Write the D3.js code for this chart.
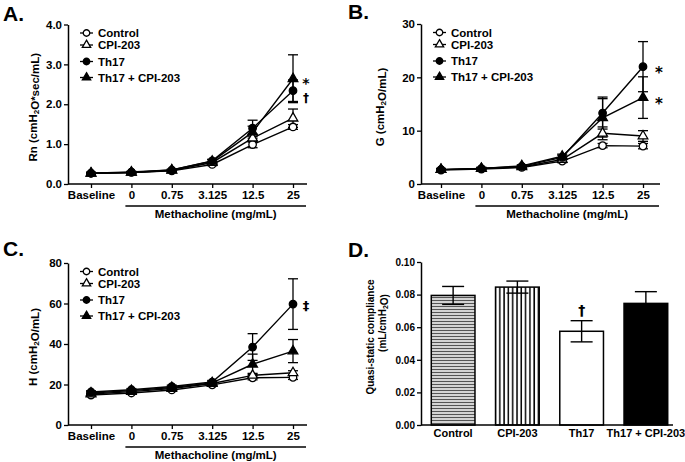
<!DOCTYPE html>
<html lang="en">
<head>
<meta charset="UTF-8">
<title>Lung mechanics</title>
<style>
  body { margin: 0; background: #fff; }
  text { font-family: 'Liberation Sans', Arial, sans-serif; font-weight: bold; fill: #000; }
  text.sym { font-family: 'DejaVu Sans', 'Liberation Sans', sans-serif; }
</style>
</head>
<body>
<svg id="fig" width="685" height="462"></svg>
<script src="https://d3js.org/d3.v7.min.js"></script>
<script>
// categories
var doses = ["Baseline", "0", "0.75", "3.125", "12.5", "25"];
var groups = ["Control", "CPI-203", "Th17", "Th17 + CPI-203"];

// A. Rn
var rnControl = [0.27, 0.29, 0.33, 0.49, 0.99, 1.43];
var rnCPI = [0.27, 0.29, 0.34, 0.54, 1.15, 1.65];
var rnTh17 = [0.27, 0.30, 0.35, 0.58, 1.40, 2.34];
var rnTh17CPI = [0.27, 0.29, 0.35, 0.57, 1.30, 2.64];
var rnControlErr = [0.02, 0.02, 0.02, 0.03, 0.08, 0.06];
var rnCPIErr = [0.02, 0.02, 0.02, 0.03, 0.10, 0.23];
var rnTh17Err = [0.02, 0.02, 0.02, 0.04, 0.20, 0.27];
var rnTh17CPIErr = [0.02, 0.02, 0.02, 0.04, 0.15, 0.60];

// B. G
var gControl = [2.6, 2.8, 3.1, 4.3, 7.2, 7.1];
var gCPI = [2.7, 2.9, 3.2, 4.6, 9.5, 9.0];
var gTh17 = [2.7, 2.9, 3.3, 5.0, 13.3, 22.0];
var gTh17CPI = [2.7, 2.9, 3.4, 5.2, 12.4, 16.2];
var gControlErr = [0.2, 0.2, 0.2, 0.3, 0.4, 0.5];
var gCPIErr = [0.2, 0.2, 0.2, 0.3, 1.2, 1.0];
var gTh17Err = [0.2, 0.2, 0.2, 0.4, 3.0, 4.7];
var gTh17CPIErr = [0.2, 0.2, 0.2, 0.4, 3.6, 3.9];

// C. H
var hControl = [14.8, 15.8, 17.3, 19.8, 23.3, 23.5];
var hCPI = [15.3, 16.5, 18.0, 20.5, 24.5, 25.8];
var hTh17 = [16.3, 17.4, 19.0, 21.2, 38.5, 59.7];
var hTh17CPI = [15.8, 17.0, 18.5, 20.8, 30.0, 36.5];
var hControlErr = [0.5, 0.5, 0.6, 0.7, 1.0, 1.0];
var hCPIErr = [0.5, 0.5, 0.6, 0.7, 1.0, 1.0];
var hTh17Err = [0.6, 0.6, 0.7, 0.8, 6.6, 12.5];
var hTh17CPIErr = [0.6, 0.6, 0.7, 0.8, 5.0, 5.7];

// D. quasi-static compliance
var qsMean = [0.0795, 0.0846, 0.0575, 0.0746];
var qsErr = [0.0055, 0.0037, 0.0065, 0.0072];

var svg = d3.select("#fig");

// pattern fills for panel D
var defs = svg.append("defs");
var ph = defs.append("pattern").attr("id", "hstripe").attr("patternUnits", "userSpaceOnUse")
    .attr("width", 6).attr("height", 3);
ph.append("rect").attr("width", 6).attr("height", 3).attr("fill", "#d4d4d4");
ph.append("line").attr("x1", 0).attr("x2", 6).attr("y1", 0.5).attr("y2", 0.5)
    .attr("stroke", "#555").attr("stroke-width", 1);
var pv = defs.append("pattern").attr("id", "vstripe").attr("patternUnits", "userSpaceOnUse")
    .attr("width", 4.3).attr("height", 6);
pv.append("rect").attr("width", 4.3).attr("height", 6).attr("fill", "#fff");
pv.append("line").attr("x1", 1).attr("x2", 1).attr("y1", 0).attr("y2", 6)
    .attr("stroke", "#000").attr("stroke-width", 1.5);

function yLabel(g, x, y, parts, size) {
    var t = g.append("text")
        .attr("transform", "translate(" + x + "," + y + ") rotate(-90)")
        .attr("text-anchor", "middle")
        .style("font-size", size + "px");
    parts.forEach(function (p) {
        if (p.sub) {
            t.append("tspan").attr("dy", "0.3em").style("font-size", (size * 0.7) + "px").text(p.t);
            t.append("tspan").attr("dy", "-0.3em").text("");
        } else {
            t.append("tspan").text(p.t);
        }
    });
    return t;
}

var symCircle = d3.symbol().type(d3.symbolCircle);
var symTri = d3.symbol().type(d3.symbolTriangle);

function drawMarker(g, i, cx, cy, scale) {
    var open = (i < 2);
    var path = (i % 2 === 0) ? symCircle.size(44 * scale)() : symTri.size(40 * scale)();
    g.append("path")
        .attr("d", path)
        .attr("transform", "translate(" + cx + "," + cy + ")")
        .attr("fill", open ? "#fff" : "#000")
        .attr("stroke", "#000")
        .attr("stroke-width", 1.3);
}

function linePanel(o) {
    var g = svg.append("g");

    g.append("text").attr("x", o.lx).attr("y", o.ly).style("font-size", "21px").text(o.letter);

    var x = d3.scalePoint().domain(doses).range([o.x0, o.x0 + 202]);
    var y = d3.scaleLinear().domain([0, o.yMax]).range([o.bottom, o.top]);

    // y axis
    var ya = g.append("g").attr("transform", "translate(" + o.axisX + ",0)")
        .call(d3.axisLeft(y).tickValues(o.yTicks).tickSize(4).tickSizeOuter(0).tickPadding(2));
    ya.selectAll("text").style("font-size", "11.5px").style("font-family", null);
    ya.select(".domain").attr("stroke-width", 1.5);
    ya.selectAll(".tick line").attr("stroke-width", 1.3);

    // x axis
    var xa = g.append("g").attr("transform", "translate(0," + o.bottom + ")")
        .call(d3.axisBottom(x).tickSize(4).tickPadding(3));
    xa.select(".domain").remove();
    xa.selectAll("text").style("font-size", "11.5px").style("font-family", null);
    xa.selectAll(".tick line").attr("stroke-width", 1.3);
    g.append("line").attr("x1", o.axisX).attr("x2", o.axisX + 239)
        .attr("y1", o.bottom).attr("y2", o.bottom).attr("stroke", "#000").attr("stroke-width", 1.5);

    // methacholine bracket
    g.append("line").attr("x1", x("0") - 6).attr("x2", o.axisX + 238)
        .attr("y1", o.bottom + 22).attr("y2", o.bottom + 22).attr("stroke", "#000").attr("stroke-width", 1.3);
    g.append("text").attr("x", (x("0") - 6 + o.axisX + 238) / 2).attr("y", o.bottom + 34)
        .attr("text-anchor", "middle").style("font-size", "11.5px").text("Methacholine (mg/mL)");

    yLabel(g, o.ylx, (o.top + o.bottom) / 2 + 3, o.ylabel, 11.5);

    var line = d3.line().x(function (d, i) { return x(doses[i]); }).y(function (d) { return y(d); });

    o.series.forEach(function (s) {
        g.append("path").datum(s).attr("d", line).attr("fill", "none")
            .attr("stroke", "#000").attr("stroke-width", 1.4);
    });
    o.series.forEach(function (s, k) {
        s.forEach(function (v, i) {
            var cx = x(doses[i]), e = o.errs[k][i];
            g.append("line").attr("x1", cx).attr("x2", cx).attr("y1", y(v - e)).attr("y2", y(v + e))
                .attr("stroke", "#000").attr("stroke-width", 1.3);
            [v - e, v + e].forEach(function (w) {
                g.append("line").attr("x1", cx - 5).attr("x2", cx + 5).attr("y1", y(w)).attr("y2", y(w))
                    .attr("stroke", "#000").attr("stroke-width", 1.3);
            });
        });
    });
    o.series.forEach(function (s, k) {
        s.forEach(function (v, i) { drawMarker(g, k, x(doses[i]), y(v), 1); });
    });

    // legend
    var rows = [8.5, 20.5, 37, 53];
    groups.forEach(function (name, k) {
        var ly = o.top + rows[k];
        g.append("line").attr("x1", o.axisX + 12).attr("x2", o.axisX + 25).attr("y1", ly).attr("y2", ly)
            .attr("stroke", "#000").attr("stroke-width", 1.3);
        drawMarker(g, k, o.axisX + 18.5, ly, 0.75);
        g.append("text").attr("x", o.axisX + 30).attr("y", ly + 4).style("font-size", "11.5px").text(name);
    });

    o.notes.forEach(function (n) {
        g.append("text").attr("class", "sym").attr("x", o.axisX + 238).attr("y", y(n.v) + n.dy)
            .attr("text-anchor", "middle").style("font-size", n.size + "px").text(n.t);
    });
}

linePanel({
    letter: "A.", lx: 3, ly: 21, axisX: 68, x0: 91, top: 24.5, bottom: 184, yMax: 4, yTicks: [0, 1, 2, 3, 4],
    ylx: 37, ylabel: [{ t: "Rn (cmH" }, { t: "2", sub: true }, { t: "O*sec/mL)" }],
    series: [rnControl, rnCPI, rnTh17, rnTh17CPI],
    errs: [rnControlErr, rnCPIErr, rnTh17Err, rnTh17CPIErr],
    notes: [{ t: "*", v: 2.64, dy: 9.5, size: 14 }, { t: "†", v: 2.34, dy: 11, size: 12 }]
});

linePanel({
    letter: "B.", lx: 348, ly: 19, axisX: 421, x0: 441, top: 24, bottom: 184, yMax: 30, yTicks: [0, 10, 20, 30],
    ylx: 384, ylabel: [{ t: "G (cmH" }, { t: "2", sub: true }, { t: "O/mL)" }],
    series: [gControl, gCPI, gTh17, gTh17CPI],
    errs: [gControlErr, gCPIErr, gTh17Err, gTh17CPIErr],
    notes: [{ t: "*", v: 22.0, dy: 11, size: 15 }, { t: "*", v: 16.2, dy: 11, size: 15 }]
});

linePanel({
    letter: "C.", lx: 3, ly: 256, axisX: 68, x0: 91, top: 263, bottom: 425, yMax: 80, yTicks: [0, 20, 40, 60, 80],
    ylx: 37, ylabel: [{ t: "H (cmH" }, { t: "2", sub: true }, { t: "O/mL)" }],
    series: [hControl, hCPI, hTh17, hTh17CPI],
    errs: [hControlErr, hCPIErr, hTh17Err, hTh17CPIErr],
    notes: [{ t: "‡", v: 59.7, dy: 6, size: 13 }]
});

// D. bar chart
(function () {
    var g = svg.append("g");
    var axisX = 421, top = 262, bottom = 425;
    g.append("text").attr("x", 348).attr("y", 257).style("font-size", "21px").text("D.");

    var x = d3.scaleBand().domain(groups).range([axisX, 678]).paddingInner(0.32).paddingOuter(0.16);
    var y = d3.scaleLinear().domain([0, 0.10]).range([bottom, top]);

    var ya = g.append("g").attr("transform", "translate(" + axisX + ",0)")
        .call(d3.axisLeft(y).tickValues([0, 0.02, 0.04, 0.06, 0.08, 0.10]).tickFormat(d3.format(".2f"))
            .tickSize(4).tickSizeOuter(0).tickPadding(2));
    ya.selectAll("text").style("font-size", "10px").style("font-family", null);
    ya.select(".domain").attr("stroke-width", 1.5);
    ya.selectAll(".tick line").attr("stroke-width", 1.3);

    var fills = ["url(#hstripe)", "url(#vstripe)", "#fff", "#000"];

    qsMean.forEach(function (v, i) {
        var cx = x(groups[i]) + x.bandwidth() / 2;
        g.append("rect").attr("x", x(groups[i])).attr("y", y(v)).attr("width", x.bandwidth())
            .attr("height", bottom - y(v)).attr("fill", fills[i]).attr("stroke", "#000").attr("stroke-width", 1.5);
        var e = qsErr[i];
        g.append("line").attr("x1", cx).attr("x2", cx).attr("y1", y(v - e)).attr("y2", y(v + e))
            .attr("stroke", "#000").attr("stroke-width", 1.4);
        [v - e, v + e].forEach(function (w) {
            g.append("line").attr("x1", cx - 11).attr("x2", cx + 11).attr("y1", y(w)).attr("y2", y(w))
                .attr("stroke", "#000").attr("stroke-width", 1.4);
        });
    });

    var xa = g.append("g").attr("transform", "translate(0," + bottom + ")")
        .call(d3.axisBottom(x).tickSize(0).tickPadding(4));
    xa.select(".domain").remove();
    xa.selectAll("text").style("font-size", "11px").style("font-family", null);
    g.append("line").attr("x1", axisX).attr("x2", 673).attr("y1", bottom).attr("y2", bottom)
        .attr("stroke", "#000").attr("stroke-width", 1.5);

    // dagger above Th17
    g.append("text").attr("class", "sym").attr("x", x("Th17") + x.bandwidth() / 2).attr("y", y(qsMean[2] + qsErr[2]) - 6)
        .attr("text-anchor", "middle").style("font-size", "14px").text("†");

    yLabel(g, 374, 337, [{ t: "Quasi-static compliance" }], 10);
    yLabel(g, 386, 323, [{ t: "(mL/cmH" }, { t: "2", sub: true }, { t: "O)" }], 10);
})();
</script>
</body>
</html>
